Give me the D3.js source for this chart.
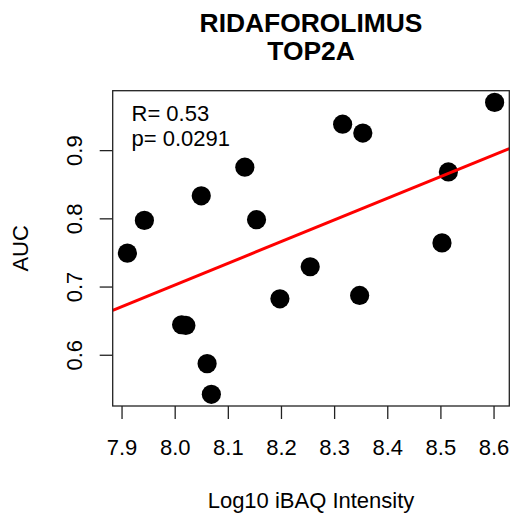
<!DOCTYPE html>
<html><head><meta charset="utf-8">
<script src="https://cdn.jsdelivr.net/npm/d3@7"></script>
<style>
html,body{margin:0;padding:0;background:#fff;}
text{font-family:"Liberation Sans",Arial,Helvetica,sans-serif;fill:#000;}
</style></head>
<body>
<svg id="chart" width="515" height="517"></svg>
<script>
const titleLines = ["RIDAFOROLIMUS", "TOP2A"];
const xLabel = "Log10 iBAQ Intensity";
const yLabel = "AUC";
const statLines = ["R= 0.53", "p= 0.0291"];
const xTicks = [7.9, 8.0, 8.1, 8.2, 8.3, 8.4, 8.5, 8.6];
const yTicks = [0.6, 0.7, 0.8, 0.9];
const xValues = [7.911, 7.943, 8.013, 8.021, 8.050, 8.061, 8.069, 8.132, 8.154, 8.198, 8.255, 8.316, 8.354, 8.348, 8.503, 8.515, 8.602];
const yValues = [0.749, 0.797, 0.644, 0.643, 0.833, 0.587, 0.542, 0.875, 0.798, 0.682, 0.729, 0.938, 0.925, 0.687, 0.764, 0.868, 0.970];

const svg = d3.select("#chart");
const L = 112.7, R = 509.3, T = 90.7, B = 406;

function padExtent(v){ const e = d3.extent(v); const d = (e[1]-e[0])*0.04; return [e[0]-d, e[1]+d]; }
const x = d3.scaleLinear().domain(padExtent(xValues)).range([L, R]);
const y = d3.scaleLinear().domain(padExtent(yValues)).range([B, T]);

// title (one text, two lines)
const tt = svg.append("text").attr("text-anchor","middle")
  .style("font-size","26.4px").style("font-weight","bold");
tt.append("tspan").attr("x",(L+R)/2).attr("y",31.7).text(titleLines[0]);
tt.append("tspan").attr("x",(L+R)/2).attr("y",59.5).text(titleLines[1]);

// clip
svg.append("defs").append("clipPath").attr("id","clip").append("rect")
  .attr("x",L).attr("y",T).attr("width",R-L).attr("height",B-T);

// points
const pts = xValues.map((v,i)=>({x:v,y:yValues[i]}));
svg.append("g").selectAll("circle").data(pts).join("circle")
  .attr("cx", d=>x(d.x)).attr("cy", d=>y(d.y)).attr("r", 9.6).attr("fill","#000");

// regression
const mx = d3.mean(xValues), my = d3.mean(yValues);
const sxy = d3.sum(xValues, (v,i)=>(v-mx)*(yValues[i]-my));
const sxx = d3.sum(xValues, v=>(v-mx)*(v-mx));
const slope = sxy/sxx, icpt = my - slope*mx;
const xd = x.domain();
svg.append("line").attr("clip-path","url(#clip)")
  .attr("x1", x(xd[0])).attr("y1", y(icpt+slope*xd[0]))
  .attr("x2", x(xd[1])).attr("y2", y(icpt+slope*xd[1]))
  .attr("stroke","#ff0000").attr("stroke-width",3);

// box
svg.append("rect").attr("x",L).attr("y",T).attr("width",R-L).attr("height",B-T)
  .attr("fill","none").attr("stroke","#222").attr("stroke-width",1.3);

// x axis
const xAxis = svg.append("g").attr("transform",`translate(0,${B})`)
  .call(d3.axisBottom(x).tickValues(xTicks).tickFormat(d3.format(".1f")).tickSize(13).tickPadding(0));
xAxis.select(".domain").remove();
xAxis.selectAll(".tick line").attr("stroke","#222").attr("stroke-width",1.3);
xAxis.selectAll(".tick text").attr("dy",null).attr("y",49)
  .style("font-size","22px").attr("font-family",null);

// y axis
const yAxis = svg.append("g").attr("transform",`translate(${L},0)`)
  .call(d3.axisLeft(y).tickValues(yTicks).tickFormat(d3.format(".1f")).tickSize(13).tickPadding(0));
yAxis.select(".domain").remove();
yAxis.selectAll(".tick line").attr("stroke","#222").attr("stroke-width",1.3);
yAxis.selectAll(".tick text").attr("dy",null)
  .attr("text-anchor","middle").attr("transform","translate(-31,0) rotate(-90)")
  .attr("x",0).attr("y",0).style("font-size","22px").attr("font-family",null);

// axis titles
svg.append("text").attr("x",(L+R)/2).attr("y",508).attr("text-anchor","middle")
  .style("font-size","22px").text(xLabel);
svg.append("text").attr("transform",`translate(28,${(T+B)/2}) rotate(-90)`).attr("text-anchor","middle")
  .style("font-size","22px").text(yLabel);

// stats
const st = svg.append("text").style("font-size","22px");
st.append("tspan").attr("x",131.5).attr("y",121.3).text(statLines[0]);
st.append("tspan").attr("x",131.5).attr("y",146.3).text(statLines[1]);
</script>
</body></html>
